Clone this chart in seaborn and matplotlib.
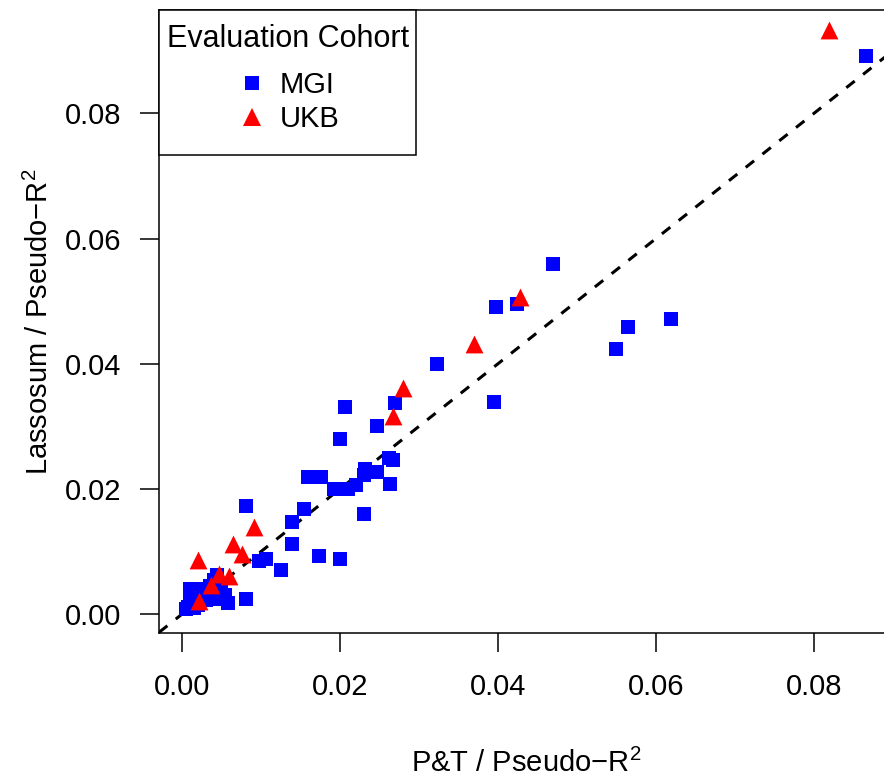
import numpy as np
import pandas as pd
import matplotlib
matplotlib.use("Agg")
import matplotlib.pyplot as plt
from matplotlib.lines import Line2D
from matplotlib.patches import Rectangle
import seaborn as sns

# ---- data ----
mgi_x = [0.0005, 0.0008, 0.0010, 0.0012, 0.0015, 0.0010, 0.0020, 0.0025, 0.0030,
         0.0035, 0.0040, 0.0045, 0.0050, 0.0055, 0.0058, 0.0081, 0.0040, 0.0020,
         0.0030, 0.0015,
         0.0081, 0.0097, 0.0106, 0.0125, 0.0139, 0.0139, 0.0154, 0.0173, 0.0200,
         0.0160, 0.0168, 0.0176, 0.0192, 0.0210, 0.0220, 0.0232, 0.0230, 0.0247,
         0.0264, 0.0230, 0.0262, 0.0267, 0.0200, 0.0247, 0.0206, 0.0270, 0.0395,
         0.0323, 0.0397, 0.0424, 0.0470, 0.0549, 0.0565, 0.0619, 0.0866]
mgi_y = [0.0008, 0.0012, 0.0020, 0.0028, 0.0035, 0.0040, 0.0030, 0.0040, 0.0035,
         0.0045, 0.0055, 0.0062, 0.0048, 0.0030, 0.0018, 0.0024, 0.0025, 0.0015,
         0.0022, 0.0010,
         0.0173, 0.0085, 0.0088, 0.0070, 0.0148, 0.0112, 0.0168, 0.0093, 0.0088,
         0.0219, 0.0219, 0.0219, 0.0200, 0.0200, 0.0206, 0.0232, 0.0222, 0.0227,
         0.0208, 0.0160, 0.0250, 0.0246, 0.0280, 0.0301, 0.0331, 0.0338, 0.0339,
         0.0400, 0.0490, 0.0496, 0.0560, 0.0424, 0.0458, 0.0472, 0.0891]
ukb_x = [0.0819, 0.0428, 0.0370, 0.0280, 0.0267, 0.0091, 0.0076, 0.0065, 0.0020,
         0.0047, 0.0060, 0.0037, 0.0022]
ukb_y = [0.0933, 0.0506, 0.0432, 0.0362, 0.0317, 0.0139, 0.0096, 0.0112, 0.0087,
         0.0064, 0.0061, 0.0046, 0.0021]
cohorts = ["MGI", "UKB"]
ticks = [0.00, 0.02, 0.04, 0.06, 0.08]
tick_labels = ["0.00", "0.02", "0.04", "0.06", "0.08"]

df = pd.DataFrame({
    "pt": mgi_x + ukb_x,
    "lasso": mgi_y + ukb_y,
    "cohort": ["MGI"] * len(mgi_x) + ["UKB"] * len(ukb_x),
})

sns.set_style("white")
plt.rcParams["font.family"] = ["Liberation Sans", "DejaVu Sans"]
plt.rcParams["mathtext.fontset"] = "custom"
plt.rcParams["mathtext.rm"] = "Liberation Sans"
plt.rcParams["mathtext.default"] = "regular"
for k in ["text.color", "axes.labelcolor", "xtick.color", "ytick.color", "axes.edgecolor"]:
    plt.rcParams[k] = "black"

W, H = 884, 779
fig = plt.figure(figsize=(W / 100, H / 100), dpi=100)
left, right, top, bottom = 159, 893, 10, 633
ax = fig.add_axes([left / W, 1 - bottom / H, (right - left) / W, (bottom - top) / H])

colors = {"MGI": "#0000FF", "UKB": "#FF0000"}
markers = {"MGI": "s", "UKB": "^"}
sizes = {"MGI": 100, "UKB": 165}
for c in cohorts:
    sub = df[df["cohort"] == c]
    sns.scatterplot(data=sub, x="pt", y="lasso", color=colors[c], marker=markers[c],
                    s=sizes[c], linewidth=0, ax=ax, legend=False, zorder=3)

ax.axline((0, 0), slope=1, color="black", lw=2.2, ls=(0, (3.5, 3.5)), zorder=2)

ax.set_xlim(-0.0029, 0.0900)
ax.set_ylim(-0.0030, 0.0965)
ax.set_xticks(ticks)
ax.set_xticklabels(tick_labels)
ax.set_yticks(ticks)
ax.set_yticklabels(tick_labels)

fs = 21
ax.tick_params(axis="both", which="both", direction="out", length=13.7, width=1.1,
               color="black", labelsize=fs, labelcolor="black", left=True, bottom=True)
ax.tick_params(axis="x", pad=14.8)
ax.tick_params(axis="y", pad=13.5)
for s in ax.spines.values():
    s.set_color("black")
    s.set_linewidth(1.1)
ax.spines["right"].set_visible(False)

ax.set_xlabel("P&T / Pseudo−R$^2$", fontsize=fs, labelpad=35)
ax.set_ylabel("Lassosum / Pseudo−R$^2$", fontsize=fs, labelpad=8)

handles = [Line2D([], [], ls="none", marker=markers[c], color=colors[c],
                  markersize=(10.0 if c == "MGI" else 12.8), markeredgewidth=0)
           for c in cohorts]
leg = ax.legend(handles, cohorts, title="Evaluation Cohort", loc="upper left",
                bbox_to_anchor=(0.0, 0.9904), borderaxespad=0, frameon=False,
                fontsize=fs, title_fontsize=22, handlelength=1.0, handletextpad=0.47,
                labelspacing=0.22, borderpad=0.28)
leg._legend_box.sep = 12.0
leg.set_zorder(10)
frame_w = (416 - left) / (right - left)
frame_h = (155 - top) / (bottom - top)
ax.add_patch(Rectangle((0, 1 - frame_h), frame_w, frame_h, transform=ax.transAxes,
                       facecolor="white", edgecolor="black", lw=1.1, zorder=9,
                       clip_on=False))

fig.savefig("out.png", dpi=100)
